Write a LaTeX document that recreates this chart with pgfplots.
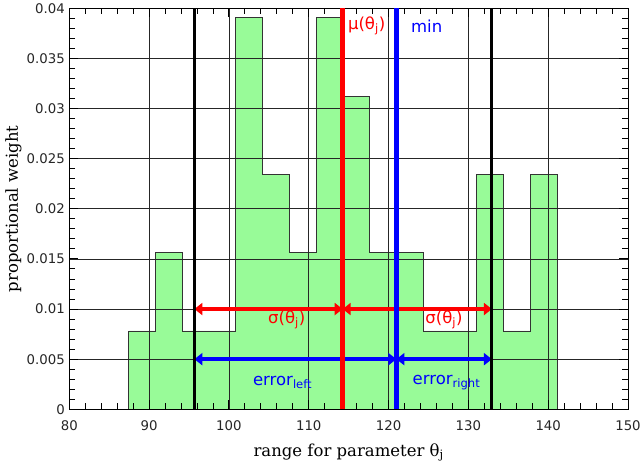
\documentclass[border=0pt]{standalone}
\usepackage{fontspec}
\setmainfont{DejaVu Serif}
\setsansfont{DejaVu Sans}
\usepackage{pgfplots}
\pgfplotsset{compat=1.18}
\usetikzlibrary{arrows.meta}
\definecolor{histgreen}{HTML}{98FB98}
\newcommand{\annfont}{\sffamily\fontsize{16.5}{19}\selectfont}
\begin{document}
\begin{tikzpicture}
\begin{axis}[
  set layers=standard,
  scale only axis,
  width=558.7pt, height=401pt,
  xmin=80, xmax=150, ymin=0, ymax=0.04,
  xtick={80,90,100,110,120,130,140,150},
  ytick={0,0.005,0.01,0.015,0.02,0.025,0.03,0.035,0.04},
  minor x tick num=4, minor y tick num=4,
  scaled y ticks=false,
  yticklabel style={/pgf/number format/fixed,/pgf/number format/precision=3},
  /pgf/number format/assume math mode=true,
  ticklabel style={font=\sffamily\fontsize{13.3}{15}\selectfont, text=black!85},
  xticklabel style={yshift=-8pt},
  yticklabel style={xshift=-1pt},
  tick align=inside,
  tick pos=both,
  major tick length=9pt, minor tick length=6pt,
  tick style={black, line width=0.9pt},
  grid=major,
  major grid style={black!85, line width=0.8pt},
  axis line style={black, line width=1pt},
  xlabel={range for parameter θ\textsubscript{j}},
  ylabel={proportional weight},
  label style={font=\fontsize{16.5}{19}\selectfont},
  xlabel style={at={(axis description cs:0.5,0)}, anchor=base, yshift=-47pt},
  ylabel style={at={(axis description cs:-0.1002,0.5)}, anchor=center},
]
\coordinate (SW) at (rel axis cs:0,0);
\coordinate (NE) at (rel axis cs:1,1);
% stepfilled histogram
\addplot[on layer=axis background, const plot mark left, fill=histgreen, draw=black!80, line width=0.9pt] coordinates {
 (87.45,0.0078125) (90.805,0.015625) (94.16,0.0078125) (97.515,0.0078125)
 (100.87,0.0390625) (104.225,0.0234375) (107.58,0.015625) (110.935,0.0390625)
 (114.29,0.03125) (117.645,0.015625) (121.0,0.015625) (124.355,0.0078125)
 (127.71,0.0078125) (131.065,0.0234375) (134.42,0.0078125) (137.775,0.0234375)
 (141.13,0.0234375)} \closedcycle;
% arrows
\addplot[red, line width=3.5pt, arrows={Triangle[length=8pt,width=12pt]-Triangle[length=8pt,width=12pt]}] coordinates {(95.67,0.01) (114.25,0.01)};
\addplot[red, line width=3.5pt, arrows={Triangle[length=8pt,width=12pt]-Triangle[length=8pt,width=12pt]}] coordinates {(114.25,0.01) (132.95,0.01)};
\addplot[blue, line width=3.5pt, arrows={Triangle[length=8pt,width=12pt]-Triangle[length=8pt,width=12pt]}] coordinates {(95.67,0.005) (120.98,0.005)};
\addplot[blue, line width=3.5pt, arrows={Triangle[length=8pt,width=12pt]-Triangle[length=8pt,width=12pt]}] coordinates {(120.98,0.005) (132.95,0.005)};
% vertical lines
\addplot[black, line width=3pt] coordinates {(95.67,0) (95.67,0.04)};
\addplot[black, line width=3pt] coordinates {(132.95,0) (132.95,0.04)};
\addplot[red, line width=5pt] coordinates {(114.25,0) (114.25,0.04)};
\addplot[blue, line width=5pt] coordinates {(120.98,0) (120.98,0.04)};
% annotations
\node[anchor=west, inner sep=0pt, text=red, font=\annfont] at (axis cs:114.9,0.03825) {μ(θ\textsubscript{j})};
\node[anchor=west, inner sep=0pt, text=blue, font=\annfont] at (axis cs:122.8,0.03825) {min};
\node[anchor=west, inner sep=0pt, text=red, font=\annfont] at (axis cs:104.9,0.0089) {σ(θ\textsubscript{j})};
\node[anchor=west, inner sep=0pt, text=red, font=\annfont] at (axis cs:124.6,0.0089) {σ(θ\textsubscript{j})};
\node[anchor=west, inner sep=0pt, text=blue, font=\annfont] at (axis cs:103.0,0.00265) {error\textsubscript{left}};
\node[anchor=west, inner sep=0pt, text=blue, font=\annfont] at (axis cs:123.0,0.00265) {error\textsubscript{right}};
\end{axis}
\pgfresetboundingbox
\path ([shift={(-69.3pt,-56.7pt)}]SW) rectangle ([shift={(13pt,8.3pt)}]NE);
\end{tikzpicture}
\end{document}
